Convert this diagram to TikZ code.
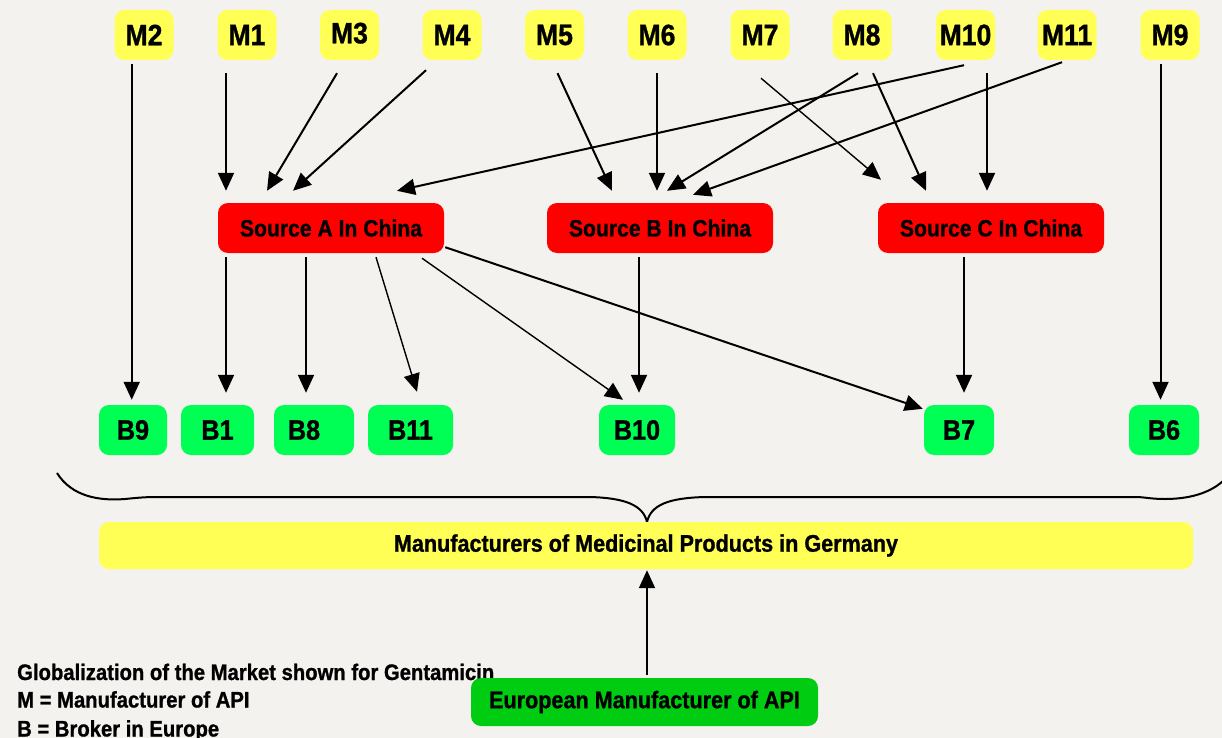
\documentclass[tikz,border=0pt]{standalone}
\usepackage{fontspec}
\setmainfont{Liberation Sans}[FakeStretch=0.9, BoldFeatures={FakeBold=1}]
\usetikzlibrary{arrows.meta,calc}
\definecolor{bg}{HTML}{F3F2EE}
\definecolor{myyellow}{HTML}{FFFF55}
\definecolor{myred}{HTML}{FF0000}
\definecolor{bgreen}{HTML}{00FF55}
\definecolor{egreen}{HTML}{00CC11}
\tikzset{
  box/.style={rounded corners=10pt, inner sep=0pt, text=black},
  mbox/.style={box, fill=myyellow, minimum width=59pt, minimum height=50pt, font=\bfseries\fontsize{29.5}{29.5}\selectfont},
  srcbox/.style={box, fill=myred, minimum width=226pt, minimum height=50pt, font=\bfseries\fontsize{23.5}{23.5}\selectfont},
  bbox/.style={box, fill=bgreen, minimum height=50pt, font=\bfseries\fontsize{28}{28}\selectfont},
  arr/.style={line width=2pt, -{Triangle[length=18pt,width=16pt]}},
  thinarr/.style={line width=1.4pt, -{Triangle[length=18pt,width=16pt]}},
  legend/.style={anchor=base west, inner sep=0pt, font=\bfseries\fontsize{22.5}{22.5}\selectfont}
}
\begin{document}
\begin{tikzpicture}[x=1pt,y=-1pt]
\fill[bg] (0,0) rectangle (1222,738);
\useasboundingbox (0,0) rectangle (1222,738);

% top row
\node[mbox] (M2) at (144,35) {M2};
\node[mbox] (M1) at (247,35) {M1};
\node[mbox] (M3) at (349.5,35) {\raisebox{4pt}{M3}};
\node[mbox] (M4) at (452,35) {M4};
\node[mbox] (M5) at (554.5,35) {M5};
\node[mbox] (M6) at (657,35) {M6};
\node[mbox] (M7) at (760,35) {M7};
\node[mbox] (M8) at (862,35) {M8};
\node[mbox] (M10) at (965.5,35) {M10};
\node[mbox] (M11) at (1067,35) {M11};
\node[mbox] (M9) at (1170,35) {M9};

% sources
\node[srcbox] (A) at (331,228) {Source A In China};
\node[srcbox] (B) at (660,228) {Source B In China};
\node[srcbox] (C) at (991,228) {Source C In China};

% brokers
\node[bbox, minimum width=68pt] (B9) at (133,430) {B9};
\node[bbox, minimum width=73pt] (B1) at (217.5,430) {B1};
\node[bbox, minimum width=80pt] (B8) at (314,430) {\hspace*{-20pt}B8};
\node[bbox, minimum width=85pt] (B11) at (410.5,430) {B11};
\node[bbox, minimum width=76pt] (B10) at (637,430) {B10};
\node[bbox, minimum width=70pt] (B7) at (959,430) {B7};
\node[bbox, minimum width=70pt] (B6) at (1164,430) {B6};

% brace
\draw[line width=2pt] (57,473) .. controls (72,497) and (100,501) .. (125,499)
  .. controls (135,498) and (145,497) .. (155,497) -- (590,497)
  .. controls (625,498) and (643,505) .. (647,522)
  .. controls (651,505) and (668,498) .. (705,497) -- (1135,497)
  .. controls (1145,497) and (1150,499) .. (1165,499)
  .. controls (1195,499) and (1215,490) .. (1226,478);

% bottom boxes
\node[box, fill=myyellow, minimum width=1094pt, minimum height=47pt, font=\bfseries\fontsize{24}{24}\selectfont] (MP) at (646,545.5) {Manufacturers of Medicinal Products in Germany};

\node[legend] (leg1) at (17,680) {Globalization of the Market shown for Gentamicin};
\node[legend] (leg2) at (17,707.5) {M = Manufacturer of API};
\node[legend] (leg3) at (17,736.5) {B = Broker in Europe};

\node[box, fill=egreen, minimum width=347pt, minimum height=48pt, font=\bfseries\fontsize{24}{24}\selectfont] (EU) at (644.5,702) {European Manufacturer of API};

% arrows M -> sources / brokers
\draw[arr] ($(M2.south)+(-12.3,4)$) -- ($(B9.north)+(-1.3,-5)$);
\draw[arr] ($(M1.south)+(-21,13)$) -- ($(A.north)+(-105,-12)$);
\draw[arr] ($(M3.south)+(-12.5,13)$) -- ($(A.north)+(-64,-12)$);
\draw[arr] ($(M4.south)+(-26,10)$) -- ($(A.north)+(-38,-12)$);
\draw[arr] ($(M10.south)+(-1.5,5)$) -- ($(A.north)+(66,-12)$);
\draw[arr] ($(M5.south)+(3,13)$) -- ($(B.north)+(-48,-12)$);
\draw[arr] ($(M6.south)+(0,13)$) -- ($(B.north)+(-3,-12)$);
\draw[arr] ($(M8.south)+(-4,13)$) -- ($(B.north)+(7,-12)$);
\draw[arr] ($(M11.south)+(-5,2)$) -- ($(B.north)+(33,-8)$);
\draw[thinarr] ($(M7.south)+(1,18)$) -- ($(C.north)+(-110,-23)$);
\draw[arr] ($(M8.south)+(11,13)$) -- ($(C.north)+(-65,-12)$);
\draw[arr] ($(M10.south)+(21.5,13)$) -- ($(C.north)+(-4,-12)$);
\draw[arr] ($(M9.south)+(-9.5,4)$) -- ($(B6.north)+(-3.5,-5)$);

% sources -> brokers
\draw[arr] ($(A.south)+(-105,4)$) -- ($(B1.north)+(8.5,-12)$);
\draw[arr] ($(A.south)+(-25,4)$) -- ($(B8.north)+(-8,-12)$);
\draw[thinarr] ($(A.south)+(45,4)$) -- ($(B11.north)+(6.5,-13)$);
\draw[thinarr] ($(A.south)+(91,5)$) -- ($(B10.north)+(-14,-5)$);
\draw[arr] ($(A.south east)+(1,-6)$) -- ($(B7.north west)+(-1,4)$);
\draw[arr] ($(B.south)+(-21,4)$) -- ($(B10.north)+(2,-12)$);
\draw[arr] ($(C.south)+(-27,4)$) -- ($(B7.north)+(5,-12)$);

% European -> manufacturers
\draw[arr] ($(EU.north)+(2.5,-3)$) -- ($(MP.south)+(1,1)$);
\end{tikzpicture}
\end{document}
